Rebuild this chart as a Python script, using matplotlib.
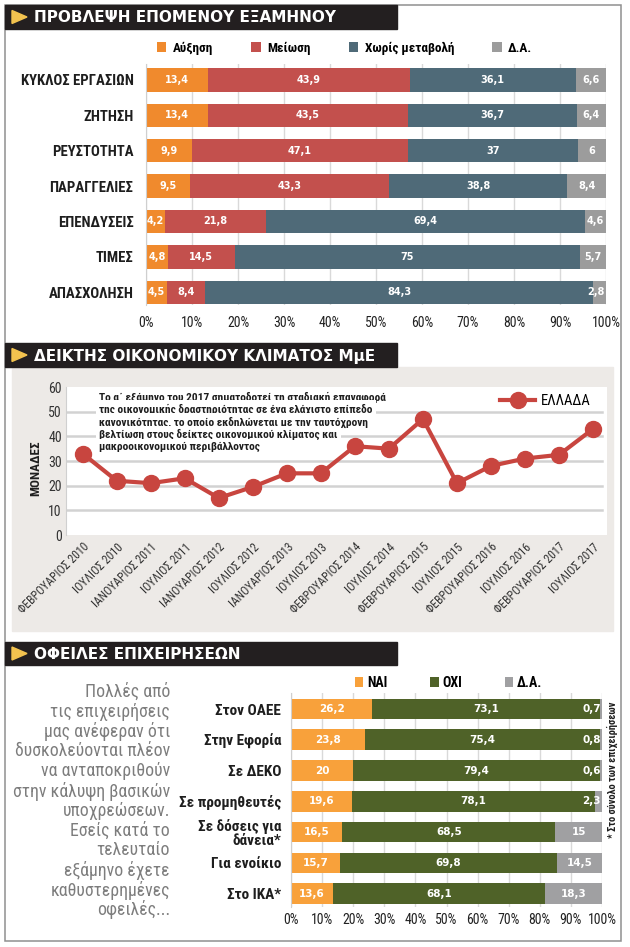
import matplotlib
matplotlib.use("Agg")
import matplotlib.pyplot as plt
from matplotlib import font_manager as fm
from matplotlib.patches import Rectangle, Polygon
import numpy as np

W, H = 630, 947

# ---- data -------------------------------------------------------------
top_cats = ["ΚΥΚΛΟΣ ΕΡΓΑΣΙΩΝ", "ΖΗΤΗΣΗ", "ΡΕΥΣΤΟΤΗΤΑ", "ΠΑΡΑΓΓΕΛΙΕΣ",
            "ΕΠΕΝΔΥΣΕΙΣ", "ΤΙΜΕΣ", "ΑΠΑΣΧΟΛΗΣΗ"]
top_series = ["Αύξηση", "Μείωση", "Χωρίς μεταβολή", "Δ.Α."]
top_increase = [13.4, 13.4, 9.9, 9.5, 4.2, 4.8, 4.5]
top_decrease = [43.9, 43.5, 47.1, 43.3, 21.8, 14.5, 8.4]
top_nochange = [36.1, 36.7, 37, 38.8, 69.4, 75, 84.3]
top_na = [6.6, 6.4, 6, 8.4, 4.6, 5.7, 2.8]

months = ["ΦΕΒΡΟΥΑΡΙΟΣ 2010", "ΙΟΥΛΙΟΣ 2010", "ΙΑΝΟΥΑΡΙΟΣ 2011", "ΙΟΥΛΙΟΣ 2011",
          "ΙΑΝΟΥΑΡΙΟΣ 2012", "ΙΟΥΛΙΟΣ 2012", "ΙΑΝΟΥΑΡΙΟΣ 2013", "ΙΟΥΛΙΟΣ 2013",
          "ΦΕΒΡΟΥΑΡΙΟΣ 2014", "ΙΟΥΛΙΟΣ 2014", "ΦΕΒΡΟΥΑΡΙΟΣ 2015", "ΙΟΥΛΙΟΣ 2015",
          "ΦΕΒΡΟΥΑΡΙΟΣ 2016", "ΙΟΥΛΙΟΣ 2016", "ΦΕΒΡΟΥΑΡΙΟΣ 2017", "ΙΟΥΛΙΟΣ 2017"]
index_values = [33, 22, 21, 23, 15, 19.5, 25, 25, 36, 35, 47, 21, 28, 31, 32.5, 43]
index_note = ["Το α΄ εξάμηνο του 2017 σηματοδοτεί τη σταδιακή επαναφορά",
              "της οικονομικής δραστηριότητας σε ένα ελάχιστο επίπεδο",
              "κανονικότητας, το οποίο εκδηλώνεται με την ταυτόχρονη",
              "βελτίωση στους δείκτες οικονομικού κλίματος και",
              "μακροοικονομικού περιβάλλοντος"]

debt_cats = ["Στον ΟΑΕΕ", "Στην Εφορία", "Σε ΔΕΚΟ", "Σε προμηθευτές",
             "Σε δόσεις για\nδάνεια*", "Για ενοίκιο", "Στο ΙΚΑ*"]
debt_series = ["ΝΑΙ", "ΟΧΙ", "Δ.Α."]
debt_yes = [26.2, 23.8, 20, 19.6, 16.5, 15.7, 13.6]
debt_no = [73.1, 75.4, 79.4, 78.1, 68.5, 69.8, 68.1]
debt_na = [0.7, 0.8, 0.6, 2.3, 15, 14.5, 18.3]
debt_question = ["Πολλές από", "τις επιχειρήσεις", "μας ανέφεραν ότι",
                 "δυσκολεύονται πλέον", "να ανταποκριθούν", "στην κάλυψη βασικών",
                 "υποχρεώσεων.", "Εσείς κατά το", "τελευταίο", "εξάμηνο έχετε",
                 "καθυστερημένες", "οφειλές..."]

# ---- style ------------------------------------------------------------
available = {f.name for f in fm.fontManager.ttflist}


def pick(*cands):
    for c in cands:
        if c in available:
            return c
    return "DejaVu Sans"


NARROW = pick("Liberation Sans Narrow", "Roboto Condensed", "Open Sans Condensed", "Roboto")
plt.rcParams["font.family"] = ["DejaVu Sans"]

top_colors = ["#f08a2d", "#c3504d", "#4f6a78", "#9c9c9c"]
debt_colors = ["#f8a13b", "#4f6228", "#a0a0a2"]
RED = "#c8453f"
DARK = "#1e1e1e"

fig = plt.figure(figsize=(W / 100, H / 100), dpi=100)


def box(x0, y0, x1, y1):
    return [x0 / W, 1 - y1 / H, (x1 - x0) / W, (y1 - y0) / H]


def fxy(x, y):
    return x / W, 1 - y / H


def header(y0, y1, title, size):
    fig.add_artist(Rectangle(fxy(5, y1), 392 / W, (y1 - y0) / H, transform=fig.transFigure,
                             color="#231f20", zorder=6))
    ym = (y0 + y1) / 2
    fig.add_artist(Polygon([fxy(12, ym - 6.5), fxy(12, ym + 6.5), fxy(27, ym)], closed=True,
                           transform=fig.transFigure, color="#f3c34f", zorder=7))
    fig.text(*fxy(34, ym + 1), title, color="white", fontsize=size, fontweight="bold",
             va="center", ha="left", zorder=7)


def fmt(v):
    return f"{v:g}".replace(".", ",")


def stacked(ax, cats, series, colors, names, height, fsize):
    y = np.arange(len(cats))
    left = np.zeros(len(cats))
    for vals, col, name in zip(series, colors, names):
        vals = np.array(vals, dtype=float)
        ax.barh(y, vals, left=left, height=height, color=col, label=name, zorder=2)
        for yi, l, v in zip(y, left, vals):
            if v < 3.5 and l + v > 99:
                ax.text(99.7, yi, fmt(v), ha="right", va="center", color="white",
                        fontsize=fsize, fontweight="bold", zorder=3)
            else:
                ax.text(l + v / 2, yi, fmt(v), ha="center", va="center", color="white",
                        fontsize=fsize, fontweight="bold", zorder=3)
        left += vals
    ax.set_xlim(0, 100)
    ax.set_xticks(range(0, 101, 10))
    ax.set_xticklabels([f"{t}%" for t in range(0, 101, 10)], family=NARROW, fontsize=10, color="#222")
    ax.set_yticks(y)
    ax.set_yticklabels(cats, family=NARROW, fontweight="bold", color=DARK)
    ax.xaxis.grid(True, color="#d9d9d9", lw=1)
    ax.set_axisbelow(True)
    for s in ["top", "right", "bottom"]:
        ax.spines[s].set_visible(False)
    ax.spines["left"].set_color("#cfcfcf")
    ax.tick_params(length=0)


# ---- frame & headers --------------------------------------------------
fig.add_artist(Rectangle(fxy(5, 941), 616 / W, 936 / H, transform=fig.transFigure,
                         fill=False, edgecolor="#8f8f8f", lw=1.1, zorder=5))
fig.add_artist(Rectangle(fxy(12, 631), 601 / W, 264 / H, transform=fig.transFigure,
                         color="#edeae7", zorder=-5))
header(5, 29, "ΠΡΟΒΛΕΨΗ ΕΠΟΜΕΝΟΥ ΕΞΑΜΗΝΟΥ", 11)
header(343, 367, "ΔΕΙΚΤΗΣ ΟΙΚΟΝΟΜΙΚΟΥ ΚΛΙΜΑΤΟΣ ΜμΕ", 11)
header(642, 665, "ΟΦΕΙΛΕΣ ΕΠΙΧΕΙΡΗΣΕΩΝ", 11)

# ---- top: forecast ----------------------------------------------------
ax1 = fig.add_axes(box(146, 64, 606, 305))
stacked(ax1, top_cats, [top_increase, top_decrease, top_nochange, top_na],
        top_colors, top_series, 0.66, 7)
ax1.set_ylim(6.36, -0.45)
ax1.tick_params(axis="y", pad=9, labelsize=10.6)
ax1.tick_params(axis="x", pad=8)
ax1.legend(loc="center left", bbox_to_anchor=(0.024, 1.066), ncol=4, frameon=False,
           borderpad=0, borderaxespad=0, handlelength=0.7, handleheight=0.7,
           handletextpad=0.5, columnspacing=2.9,
           prop={"family": NARROW, "weight": "bold", "size": 9.5})

# ---- middle: climate index --------------------------------------------
ax2 = fig.add_axes(box(66, 387, 607, 535))
xs = np.arange(len(months))
ax2.plot(xs, index_values, color=RED, lw=3, marker="o", ms=11.5, label="ΕΛΛΑΔΑ",
         zorder=3, solid_joinstyle="round")
ax2.set_xlim(-0.49, 15.41)
ax2.set_ylim(0, 60)
for v in range(10, 60, 10):
    ax2.axhline(v, xmax=0.99, color="#d2d2d2", lw=1.8, zorder=1)
ax2.set_yticks(range(0, 61, 10))
ax2.set_yticklabels([str(v) for v in range(0, 61, 10)], family=NARROW, fontsize=10, color="#333")
ax2.set_xticks(xs)
ax2.set_xticklabels(months, rotation=45, ha="right", rotation_mode="anchor",
                    family=NARROW, fontsize=8.5, color="#333")
ax2.tick_params(length=0)
ax2.tick_params(axis="y", pad=3)
ax2.tick_params(axis="x", pad=4)
for s in ["top", "right", "bottom"]:
    ax2.spines[s].set_visible(False)
ax2.spines["left"].set_color("#d0d0d0")
ax2.legend(loc="center right", bbox_to_anchor=(0.97, 0.905), frameon=False, borderpad=0,
           borderaxespad=0, handlelength=2.4, handletextpad=0.4,
           prop={"family": NARROW, "size": 10.5})
fig.text(*fxy(35.5, 468), "ΜΟΝΑΔΕΣ", rotation=90, ha="center", va="center",
         family=NARROW, fontweight="bold", fontsize=9.5, color=DARK)
for i, line in enumerate(index_note):
    fig.text(*fxy(99, 397 + 12.5 * i), line, ha="left", va="center", family=NARROW,
             fontweight="bold", fontsize=8.2, color=DARK,
             bbox=dict(facecolor="white", edgecolor="none", pad=2.5))

# ---- bottom: debts ----------------------------------------------------
ax3 = fig.add_axes(box(291, 693, 602, 907))
stacked(ax3, debt_cats, [debt_yes, debt_no, debt_na], debt_colors, debt_series, 0.67, 7.5)
ax3.set_ylim(6.43, -0.52)
ax3.tick_params(axis="y", pad=7, labelsize=11)
ax3.tick_params(axis="x", pad=4)
for lab in ax3.get_yticklabels():
    lab.set_linespacing(0.95)
ax3.legend(loc="center left", bbox_to_anchor=(0.206, 1.047), ncol=3, frameon=False,
           borderpad=0, borderaxespad=0, handlelength=0.6, handleheight=0.7,
           handletextpad=0.25, columnspacing=3.1,
           prop={"family": NARROW, "weight": "bold", "size": 10})
fig.text(*fxy(612, 770), "* Στο σύνολο των επιχειρήσεων", rotation=90, ha="center",
         va="center", family=NARROW, fontweight="bold", fontsize=7.5, color=DARK)
for i, line in enumerate(debt_question):
    fig.text(*fxy(170, 692 + 19.8 * i), line, ha="right", va="center", family=NARROW,
             fontsize=12.8, color="#7d7d7d")

fig.savefig("out.png", dpi=100)
